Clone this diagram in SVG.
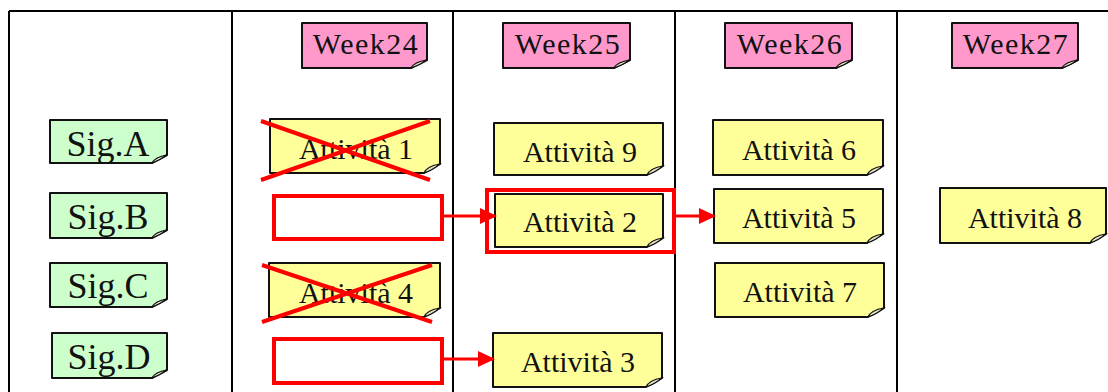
<svg xmlns="http://www.w3.org/2000/svg" width="1108" height="392" viewBox="0 0 1108 392">
  <style>
    .grid { stroke: #000; stroke-width: 2; fill: none; }
    .note { stroke: #111; stroke-width: 2; stroke-linejoin: round; }
    .fold { stroke: #111; stroke-width: 1.2; fill: #e8e8c8; }
    .week { fill: #ff99cc; }
    .sig { fill: #ccffcc; }
    .act { fill: #ffff99; }
    .lbl { font-family: "Liberation Serif", "Times New Roman", serif; fill: #111; text-anchor: middle; }
    .wk { font-size: 30px; letter-spacing: 1.5px; }
    .sg { font-size: 36px; }
    .at { font-size: 30px; }
    .hl { stroke: #ff0000; stroke-width: 4; fill: none; }
    .cross { stroke: #ff0000; stroke-width: 4; stroke-linecap: butt; }
    .arrow { stroke: #ff0000; stroke-width: 3; fill: none; marker-end: url(#head); }
  </style>
  <defs>
    <marker id="head" markerWidth="17" markerHeight="16" refX="15" refY="8" orient="auto" markerUnits="userSpaceOnUse">
      <path d="M0,0 L17,8 L0,16 Z" fill="#ff0000"/>
    </marker>
  </defs>

  <rect width="1108" height="392" fill="#fff"/>

  <!-- table grid -->
  <g id="grid" class="grid">
    <path d="M9,11 H1108 M9,11 V392 M232,11 V392 M453,11 V392 M675,11 V392 M897,11 V392"/>
  </g>

  <!-- week headers -->
  <g id="week24">
    <path class="note week" d="M302,23 H427 V60 L411,68 H302 Z"/>
    <path class="fold" d="M411,68 Q414,62 427,60 Q420,65 411,68 Z"/>
    <text class="lbl wk" x="366" y="54">Week24</text>
  </g>
  <g id="week25">
    <path class="note week" d="M503,23 H630 V60 L614,68 H503 Z"/>
    <path class="fold" d="M614,68 Q617,62 630,60 Q623,65 614,68 Z"/>
    <text class="lbl wk" x="568" y="54">Week25</text>
  </g>
  <g id="week26">
    <path class="note week" d="M725,23 H852 V60 L836,68 H725 Z"/>
    <path class="fold" d="M836,68 Q839,62 852,60 Q845,65 836,68 Z"/>
    <text class="lbl wk" x="790" y="54">Week26</text>
  </g>
  <g id="week27">
    <path class="note week" d="M952,23 H1078 V60 L1062,68 H952 Z"/>
    <path class="fold" d="M1062,68 Q1065,62 1078,60 Q1071,65 1062,68 Z"/>
    <text class="lbl wk" x="1016" y="54">Week27</text>
  </g>

  <!-- signal rows -->
  <g id="sigA">
    <path class="note sig" d="M50,120 H167 V155 L152,163 H50 Z"/>
    <path class="fold" d="M152,163 Q155,157 167,155 Q160,160 152,163 Z"/>
    <text class="lbl sg" x="108" y="156">Sig.A</text>
  </g>
  <g id="sigB">
    <path class="note sig" d="M50,193 H167 V230 L152,238 H50 Z"/>
    <path class="fold" d="M152,238 Q155,232 167,230 Q160,235 152,238 Z"/>
    <text class="lbl sg" x="108" y="229">Sig.B</text>
  </g>
  <g id="sigC">
    <path class="note sig" d="M50,263 H167 V299 L152,307 H50 Z"/>
    <path class="fold" d="M152,307 Q155,301 167,299 Q160,304 152,307 Z"/>
    <text class="lbl sg" x="108" y="298">Sig.C</text>
  </g>
  <g id="sigD">
    <path class="note sig" d="M52,333 H167 V370 L152,378 H52 Z"/>
    <path class="fold" d="M152,378 Q155,372 167,370 Q160,375 152,378 Z"/>
    <text class="lbl sg" x="109" y="369">Sig.D</text>
  </g>

  <!-- week 24 activities -->
  <g id="act1">
    <path class="note act" d="M270,119 H440 V164 L424,173 H270 Z"/>
    <path class="fold" d="M424,173 Q427,166 440,164 Q433,170 424,173 Z"/>
    <text class="lbl at" x="356" y="159">Attività 1</text>
    <path class="cross" d="M261,121 L430,180 M430,121 L261,180"/>
  </g>
  <g id="slotB">
    <rect class="hl" x="274" y="196" width="168" height="43"/>
  </g>
  <g id="act4">
    <path class="note act" d="M269,263 H440 V308 L424,317 H269 Z"/>
    <path class="fold" d="M424,317 Q427,310 440,308 Q433,314 424,317 Z"/>
    <text class="lbl at" x="356" y="303">Attività 4</text>
    <path class="cross" d="M262,265 L432,322 M432,265 L262,322"/>
  </g>
  <g id="slotD">
    <rect class="hl" x="274" y="339" width="168" height="44"/>
  </g>

  <!-- week 25 activities -->
  <g id="act9">
    <path class="note act" d="M494,123 H663 V166 L647,175 H494 Z"/>
    <path class="fold" d="M647,175 Q650,168 663,166 Q656,172 647,175 Z"/>
    <text class="lbl at" x="580" y="162">Attività 9</text>
  </g>
  <g id="act2">
    <rect class="hl" x="487" y="190" width="187" height="62"/>
    <path class="note act" d="M495,194 H663 V238 L647,247 H495 Z"/>
    <path class="fold" d="M647,247 Q650,240 663,238 Q656,244 647,247 Z"/>
    <text class="lbl at" x="580" y="232">Attività 2</text>
  </g>
  <g id="act3">
    <path class="note act" d="M493,333 H662 V378 L646,387 H493 Z"/>
    <path class="fold" d="M646,387 Q649,380 662,378 Q655,384 646,387 Z"/>
    <text class="lbl at" x="578" y="372">Attività 3</text>
  </g>

  <!-- week 26 activities -->
  <g id="act6">
    <path class="note act" d="M713,120 H883 V166 L867,175 H713 Z"/>
    <path class="fold" d="M867,175 Q870,168 883,166 Q876,172 867,175 Z"/>
    <text class="lbl at" x="799" y="160">Attività 6</text>
  </g>
  <g id="act5">
    <path class="note act" d="M714,189 H883 V234 L867,243 H714 Z"/>
    <path class="fold" d="M867,243 Q870,236 883,234 Q876,240 867,243 Z"/>
    <text class="lbl at" x="799" y="228">Attività 5</text>
  </g>
  <g id="act7">
    <path class="note act" d="M715,263 H884 V308 L868,317 H715 Z"/>
    <path class="fold" d="M868,317 Q871,310 884,308 Q877,314 868,317 Z"/>
    <text class="lbl at" x="800" y="302">Attività 7</text>
  </g>

  <!-- week 27 activities -->
  <g id="act8">
    <path class="note act" d="M940,188 H1106 V234 L1090,243 H940 Z"/>
    <path class="fold" d="M1090,243 Q1093,236 1106,234 Q1099,240 1090,243 Z"/>
    <text class="lbl at" x="1025" y="228">Attività 8</text>
  </g>

  <!-- shifts -->
  <g id="connectors">
    <path class="arrow" d="M442,216 H495"/>
    <path class="arrow" d="M674,216 H714"/>
    <path class="arrow" d="M442,359 H493"/>
  </g>
</svg>
